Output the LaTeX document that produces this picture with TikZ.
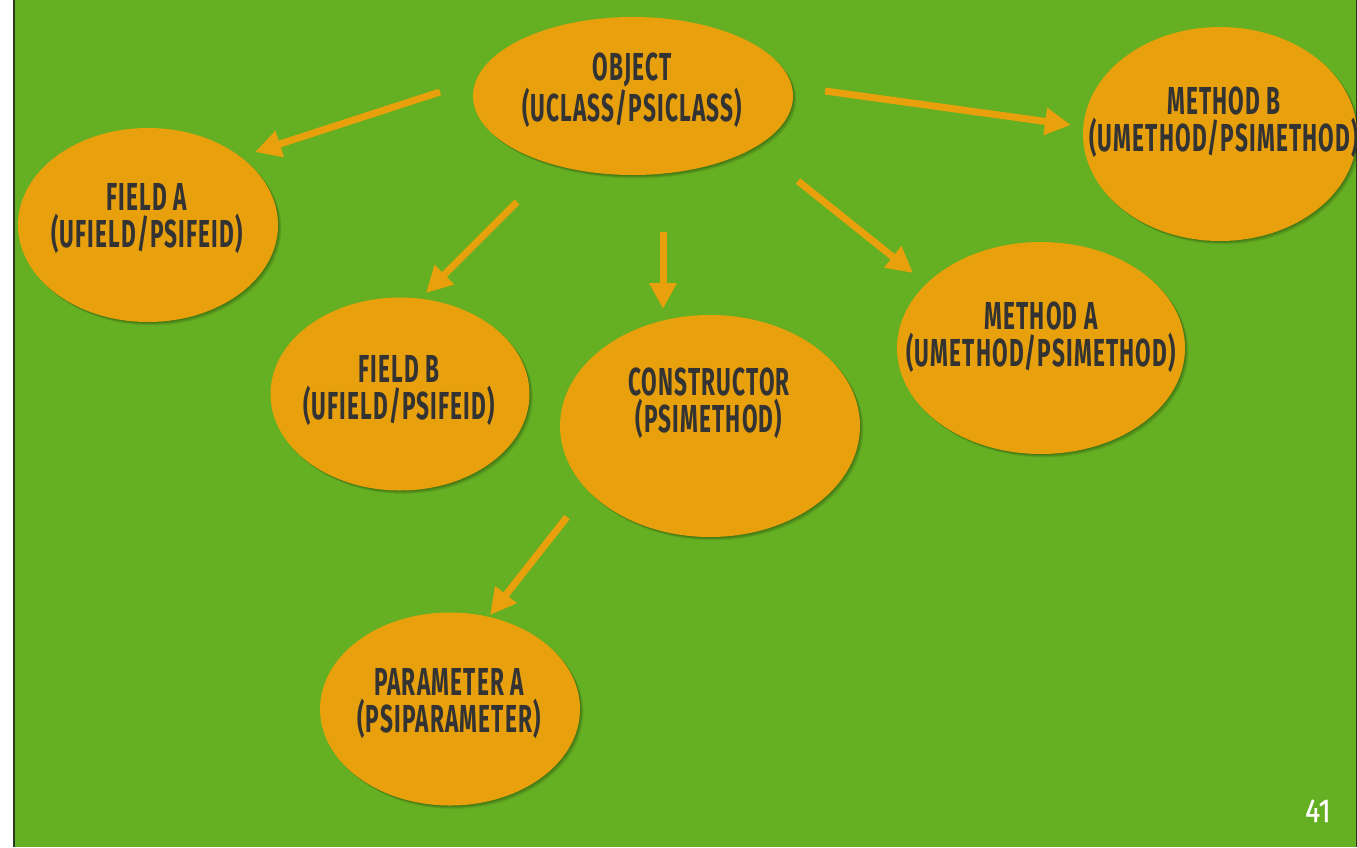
\documentclass[tikz,border=0pt]{standalone}
\usepackage{fontspec}
\setmainfont{Fira Sans}[FakeStretch=0.58, LetterSpace=3]
\newfontfamily\numfont{Fira Sans}[FakeStretch=0.85, FakeBold=0.6]
\usetikzlibrary{arrows.meta,shapes.geometric}

\definecolor{slidegreen}{HTML}{64AF22}
\definecolor{bubble}{HTML}{E8A00C}
\definecolor{ink}{HTML}{333333}
\definecolor{edge}{HTML}{2A3A1E}

\tikzset{
  % soft shadow: a few faint offset copies under each bubble
  softshade/.style={preaction={fill=black, fill opacity=0.07,
      transform canvas={xshift=#1, yshift=-#1}}},
  bubblenode/.style={ellipse, fill=bubble, inner sep=0pt,
    softshade=0.6pt, softshade=1.2pt, softshade=1.9pt, softshade=2.6pt, softshade=3.4pt},
  caption/.style={anchor=north, inner sep=0pt, align=center, text=ink,
    font=\fontsize{39}{37}\selectfont\bfseries},
  link/.style={draw=bubble, line width=7pt, -{Triangle[length=26pt,width=26pt]}},
}

\begin{document}
\begin{tikzpicture}[x=1pt, y=-1pt]
  % slide background with its frame lines
  \useasboundingbox (0,0) rectangle (1357,847);
  \fill[white] (0,0) rectangle (1357,847);
  \fill[slidegreen] (13,0) rectangle (1357,847);
  \fill[edge] (13,0) rectangle (14.5,847);
  \fill[edge] (1355.5,0) rectangle (1357,847);

  % bubbles
  \node[bubblenode, minimum width=320pt, minimum height=158pt] (obj) at (633,96) {};
  \node[bubblenode, minimum width=274pt, minimum height=214pt] (mb) at (1220,134) {};
  \node[bubblenode, minimum width=260pt, minimum height=194pt] (fa) at (148,225) {};
  \node[bubblenode, minimum width=259pt, minimum height=193pt] (fb) at (400,394) {};
  \node[bubblenode, minimum width=300pt, minimum height=222pt] (ctor) at (710,426) {};
  \node[bubblenode, minimum width=288pt, minimum height=212pt] (ma) at (1041,348) {};
  \node[bubblenode, minimum width=260pt, minimum height=193pt] (pa) at (450,709) {};

  % captions
  \node[caption] (objtxt) at (632,53) {OBJECT\\(UCLASS/PSICLASS)};
  \node[caption] (mbtxt) at (1224,87) {METHOD B\\(UMETHOD/PSIMETHOD)};
  \node[caption] (fatxt) at (147,183) {FIELD A\\(UFIELD/PSIFEID)};
  \node[caption] (fbtxt) at (399,355) {FIELD B\\(UFIELD/PSIFEID)};
  \node[caption] (ctortxt) at (709,368) {CONSTRUCTOR\\(PSIMETHOD)};
  \node[caption] (matxt) at (1041,302) {METHOD A\\(UMETHOD/PSIMETHOD)};
  \node[caption] (patxt) at (449,668) {PARAMETER A\\(PSIPARAMETER)};

  % connector ends
  \coordinate (s1) at (440,92);   \coordinate (e1) at (255,152);
  \coordinate (s2) at (825,91);   \coordinate (e2) at (1071,125);
  \coordinate (s3) at (517,202);  \coordinate (e3) at (426,293);
  \coordinate (s4) at (663,232);  \coordinate (e4) at (663,309);
  \coordinate (s5) at (798,181);  \coordinate (e5) at (913,273);
  \coordinate (s6) at (567,517);  \coordinate (e6) at (490,615);

  % connectors
  \draw[link] (s1) -- (e1);
  \draw[link] (s2) -- (e2);
  \draw[link] (s3) -- (e3);
  \draw[link] (s4) -- (e4);
  \draw[link] (s5) -- (e5);
  \draw[link] (s6) -- (e6);

  % page number
  \node[anchor=base, inner sep=0pt, text=white, font=\numfont\fontsize{33}{33}\selectfont\mdseries] (pageno) at (1318,822) {41};
\end{tikzpicture}
\end{document}
